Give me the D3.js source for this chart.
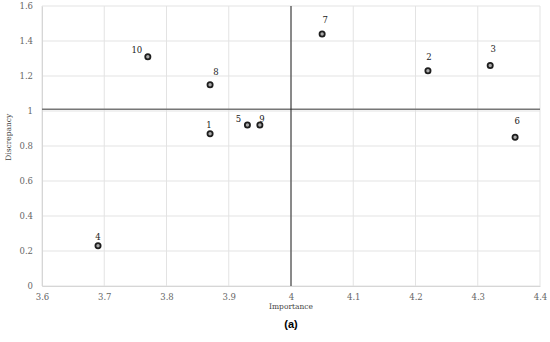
<!DOCTYPE html>
<html>
<head>
<meta charset="utf-8">
<script src="https://cdn.jsdelivr.net/npm/d3@7"></script>
<style>
  body { margin: 0; background: #fff; }
</style>
</head>
<body>
<div id="chart"></div>
<script>
// item numbers and their (importance, discrepancy) means
const items = ["1", "2", "3", "4", "5", "6", "7", "8", "9", "10"];
const importance = [3.87, 4.22, 4.32, 3.69, 3.93, 4.36, 4.05, 3.87, 3.95, 3.77];
const discrepancy = [0.87, 1.23, 1.26, 0.23, 0.92, 0.85, 1.44, 1.15, 0.92, 1.31];
const xTicks = [3.6, 3.7, 3.8, 3.9, 4, 4.1, 4.2, 4.3, 4.4];
const yTicks = [0, 0.2, 0.4, 0.6, 0.8, 1, 1.2, 1.4, 1.6];
const meanImportance = 4;
const meanDiscrepancy = 1.01;

// label offsets so numbers sit where they do in the figure
const labelOffsets = {
  "1": [-1, -6], "2": [1, -11], "3": [3, -14], "4": [0, -6], "5": [-9, -3],
  "6": [2, -13], "7": [3, -11], "8": [6, -10], "9": [2, -3], "10": [-11, -4]
};

const width = 550, height = 342;
const svg = d3.select("#chart").append("svg")
  .attr("width", width)
  .attr("height", height);

const x = d3.scaleLinear().domain([3.6, 4.4]).range([42, 540]);
const y = d3.scaleLinear().domain([0, 1.6]).range([286, 6]);

const serif = "'DejaVu Serif', 'Liberation Serif', serif";

// gridlines
svg.append("g")
  .selectAll("line")
  .data(xTicks)
  .join("line")
  .attr("x1", d => x(d)).attr("x2", d => x(d))
  .attr("y1", y(1.6)).attr("y2", y(0))
  .attr("stroke", "#e3e3e3").attr("stroke-width", 1);

svg.append("g")
  .selectAll("line")
  .data(yTicks)
  .join("line")
  .attr("x1", x(3.6)).attr("x2", x(4.4))
  .attr("y1", d => y(d)).attr("y2", d => y(d))
  .attr("stroke", "#e3e3e3").attr("stroke-width", 1);

// axes without ticks, just labels
const xAxis = svg.append("g")
  .attr("transform", `translate(0, ${y(0)})`)
  .call(d3.axisBottom(x).tickValues(xTicks).tickSize(0).tickPadding(8).tickFormat(d3.format("")));
xAxis.select(".domain").attr("stroke", "#d6d6d6");
xAxis.selectAll("text")
  .attr("font-family", serif).attr("font-size", "8.5px").attr("fill", "#666");

const yAxis = svg.append("g")
  .attr("transform", `translate(${x(3.6)}, 0)`)
  .call(d3.axisLeft(y).tickValues(yTicks).tickSize(0).tickPadding(9).tickFormat(d3.format("")));
yAxis.select(".domain").attr("stroke", "#d6d6d6");
yAxis.selectAll("text")
  .attr("font-family", serif).attr("font-size", "8.5px").attr("fill", "#666");

// mean lines
svg.append("line")
  .attr("x1", x(3.6)).attr("x2", x(4.4))
  .attr("y1", y(meanDiscrepancy)).attr("y2", y(meanDiscrepancy))
  .attr("stroke", "#777").attr("stroke-width", 1.3);

svg.append("line")
  .attr("x1", x(meanImportance)).attr("x2", x(meanImportance))
  .attr("y1", y(1.6)).attr("y2", y(0))
  .attr("stroke", "#222").attr("stroke-width", 1);

const pts = items.map((id, i) => ({ id: id, imp: importance[i], dis: discrepancy[i] }));

svg.append("g")
  .selectAll("circle")
  .data(pts)
  .join("circle")
  .attr("cx", d => x(d.imp))
  .attr("cy", d => y(d.dis))
  .attr("r", 2.6)
  .attr("fill", "#aaa")
  .attr("stroke", "#1e1e1e")
  .attr("stroke-width", 1.8);

svg.append("g")
  .selectAll("text")
  .data(pts)
  .join("text")
  .attr("x", d => x(d.imp) + labelOffsets[d.id][0])
  .attr("y", d => y(d.dis) + labelOffsets[d.id][1])
  .attr("text-anchor", "middle")
  .attr("font-family", serif)
  .attr("font-size", "8.5px")
  .attr("fill", "#222")
  .text(d => d.id);

// axis titles
svg.append("text")
  .attr("x", x(4)).attr("y", 309)
  .attr("text-anchor", "middle")
  .attr("font-family", serif).attr("font-size", "7.5px").attr("fill", "#444")
  .text("Importance");

svg.append("text")
  .attr("transform", `translate(11, ${y(0.85)}) rotate(-90)`)
  .attr("text-anchor", "middle")
  .attr("font-family", serif).attr("font-size", "7.5px").attr("fill", "#444")
  .text("Discrepancy");

svg.append("text")
  .attr("x", x(4)).attr("y", 328)
  .attr("text-anchor", "middle")
  .attr("font-family", "'Liberation Sans', Arial, sans-serif")
  .attr("font-size", "11px").attr("font-weight", "bold").attr("fill", "#000")
  .text("(a)");
</script>
</body>
</html>
